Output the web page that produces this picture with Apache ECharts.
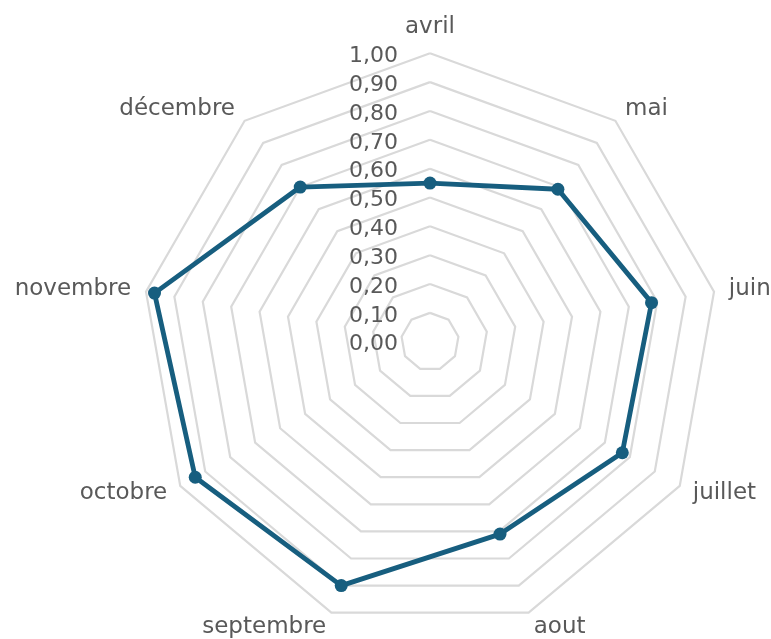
<!DOCTYPE html>
<html>
<head>
<meta charset="utf-8">
<script src="https://cdn.jsdelivr.net/npm/echarts@6/dist/echarts.min.js"></script>
<style>
  html, body { margin: 0; padding: 0; background: #fff; }
  #chart { width: 771px; height: 639px; }
</style>
</head>
<body>
<div id="chart"></div>
<script>
// données
const months = ['avril', 'mai', 'juin', 'juillet', 'aout', 'septembre', 'octobre', 'novembre', 'décembre']
const values = [0.55, 0.69, 0.78, 0.77, 0.71, 0.90, 0.94, 0.97, 0.70]
const tickMax = 1
const tickStep = 0.1

const textColor = '#595959'
const lineColor = '#175e7f'
const font = 'DejaVu Sans'

// ECharts place les axes dans le sens anti-horaire : on inverse l'ordre après le premier
const order = [0].concat(months.slice(1).map((_, i) => months.length - 1 - i))
const indicator = order.map(i => ({ name: months[i], min: 0, max: tickMax }))
const data = order.map(i => values[i])

const cx = 430
const cy = 341.7
const radius = 288.4

const chart = echarts.init(document.getElementById('chart'))

const option = {
  animation: false,
  // axe des valeurs posé sur la branche "avril" (légèrement abaissé comme dans Excel)
  grid: {
    left: cx,
    top: cy - radius + 3,
    height: radius,
    width: 10
  },
  xAxis: { type: 'value', show: false },
  yAxis: {
    type: 'value',
    min: 0,
    max: tickMax,
    interval: tickStep,
    axisLine: { show: false },
    axisTick: { show: false },
    splitLine: { show: false },
    axisLabel: {
      margin: 32,
      color: textColor,
      fontFamily: font,
      fontSize: 22,
      formatter: v => v.toFixed(2).replace('.', ',')
    }
  },
  radar: {
    center: [cx, cy],
    radius: radius,
    startAngle: 90,
    shape: 'polygon',
    splitNumber: 10,
    indicator: indicator,
    axisName: {
      color: textColor,
      fontFamily: font,
      fontSize: 23
    },
    nameGap: 15,
    axisLine: { show: false },
    axisTick: { show: false },
    axisLabel: { show: false },
    splitArea: { show: false },
    splitLine: {
      lineStyle: { color: '#d9d9d9', width: 2.2 }
    }
  },
  series: [{
    type: 'radar',
    symbol: 'circle',
    symbolSize: 13,
    lineStyle: { color: lineColor, width: 4.8 },
    itemStyle: { color: lineColor },
    data: [{ value: data }]
  }]
}

chart.setOption(option)
</script>
</body>
</html>
